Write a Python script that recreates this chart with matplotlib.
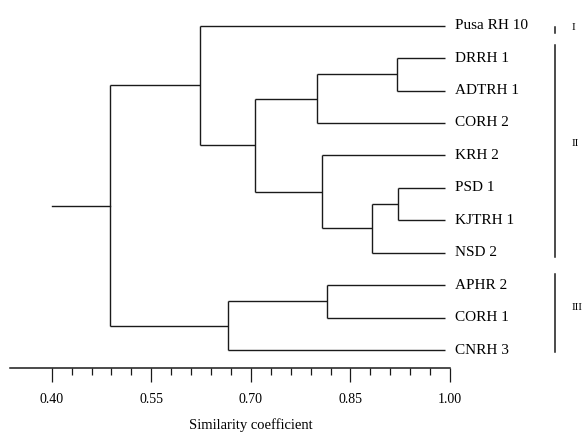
import matplotlib
matplotlib.use("Agg")
import matplotlib.pyplot as plt
import numpy as np

plt.rcParams['font.family'] = ['Liberation Serif', 'DejaVu Serif']

# leaf order (top to bottom)
leaves = ["Pusa RH 10", "DRRH 1", "ADTRH 1", "CORH 2", "KRH 2", "PSD 1",
          "KJTRH 1", "NSD 2", "APHR 2", "CORH 1", "CNRH 3"]

# merges: (child a, child b, similarity) ; new clusters get ids 11, 12, ...
merge_a = [1, 5, 12, 8, 4, 11, 16, 14, 0, 19]
merge_b = [2, 6, 7, 9, 13, 3, 15, 10, 17, 18]
merge_sim = [0.920, 0.921, 0.883, 0.815, 0.807, 0.799, 0.706, 0.665, 0.623, 0.488]
leaf_tip = 0.992
root_start = 0.401

# cluster brackets on the right: label, first leaf pos, last leaf pos
group_names = ["I", "II", "III"]
group_top = [0.05, 0.595, 7.656]
group_bot = [0.23, 7.13, 10.06]
group_label_y = [0.07, 3.62, 8.70]

major_ticks = [0.40, 0.55, 0.70, 0.85, 1.00]
tick_labels = ["0.40", "0.55", "0.70", "0.85", "1.00"]
minor_ticks = np.arange(0.40, 1.001, 0.03)

fig = plt.figure(figsize=(5.82, 4.34), dpi=100)
ax = fig.add_axes([0, 0, 1, 1])
ax.set_xlim(0.3221, 1.1988)
ax.set_ylim(12.590, -0.7925)

lc = '#1a1a1a'
lw = 1.0

# node positions
xpos = {i: leaf_tip for i in range(len(leaves))}
ypos = {i: float(i) for i in range(len(leaves))}
for k, (a, b, s) in enumerate(zip(merge_a, merge_b, merge_sim)):
    nid = len(leaves) + k
    for c in (a, b):
        ax.plot([s, xpos[c]], [ypos[c], ypos[c]], color=lc, lw=lw,
                solid_capstyle='butt')
    ax.plot([s, s], [ypos[a], ypos[b]], color=lc, lw=lw, solid_capstyle='butt')
    xpos[nid] = s
    ypos[nid] = (ypos[a] + ypos[b]) / 2
root = len(leaves) + len(merge_a) - 1
ax.plot([root_start, xpos[root]], [ypos[root], ypos[root]], color=lc, lw=lw)

for i, name in enumerate(leaves):
    ax.text(leaf_tip + 0.016, i, name, ha='left', va='center',
            fontsize=11, color='black')

for name, t, b, ly in zip(group_names, group_top, group_bot, group_label_y):
    ax.plot([1.1586, 1.1586], [t, b], color=lc, lw=1.1)
    ax.text(1.1835, ly, name, ha='left', va='center', fontsize=8,
            color='black')

# scale axis
for sp in ['left', 'top', 'right']:
    ax.spines[sp].set_visible(False)
ax.spines['bottom'].set_position(('data', 10.546))
ax.spines['bottom'].set_bounds(0.337, 1.00)
ax.spines['bottom'].set_linewidth(1.1)
ax.spines['bottom'].set_color(lc)
ax.set_yticks([])
ax.set_xticks(major_ticks)
ax.set_xticklabels(tick_labels)
ax.set_xticks(minor_ticks, minor=True)
ax.tick_params(axis='x', which='major', direction='out', length=10,
               width=0.9, pad=8, labelsize=10, color=lc)
ax.tick_params(axis='x', which='minor', direction='out', length=5.3,
               width=0.9, color=lc)
ax.text(0.70, 12.33, "Similarity coefficient", ha='center', va='center',
        fontsize=10.5, color='black')

fig.savefig("out.png", dpi=100, facecolor='white')
